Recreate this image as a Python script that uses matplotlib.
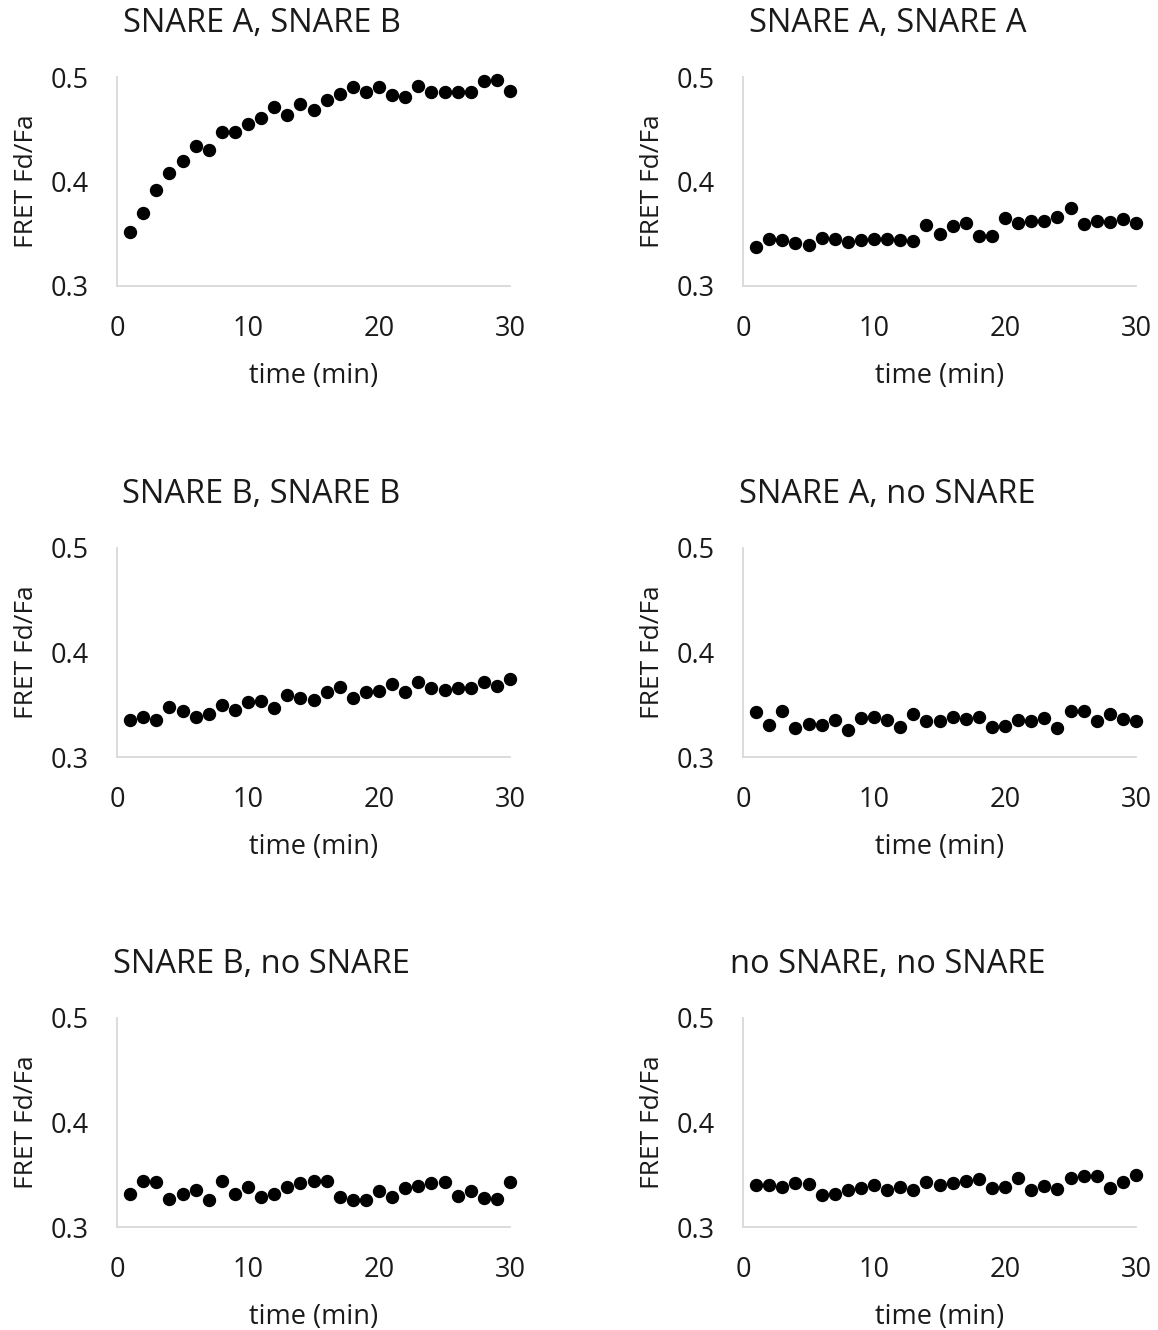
import matplotlib
matplotlib.use("Agg")
import matplotlib.pyplot as plt

plt.rcParams['font.family'] = ['Open Sans', 'DejaVu Sans']

time_min = list(range(1, 31))

titles = ["SNARE A, SNARE B", "SNARE A, SNARE A",
          "SNARE B, SNARE B", "SNARE A, no SNARE",
          "SNARE B, no SNARE", "no SNARE, no SNARE"]

snareA_snareB = [0.352, 0.370, 0.392, 0.408, 0.420, 0.434, 0.430, 0.447, 0.447, 0.455,
                 0.461, 0.471, 0.464, 0.474, 0.468, 0.478, 0.484, 0.490, 0.486, 0.490,
                 0.483, 0.481, 0.491, 0.486, 0.486, 0.486, 0.486, 0.496, 0.497, 0.487]
snareA_snareA = [0.337, 0.345, 0.344, 0.341, 0.339, 0.346, 0.345, 0.342, 0.344, 0.345,
                 0.345, 0.344, 0.343, 0.358, 0.350, 0.357, 0.360, 0.348, 0.348, 0.365,
                 0.360, 0.362, 0.362, 0.366, 0.375, 0.359, 0.362, 0.361, 0.364, 0.360]
snareB_snareB = [0.335, 0.338, 0.335, 0.348, 0.344, 0.338, 0.341, 0.350, 0.345, 0.353,
                 0.354, 0.347, 0.359, 0.356, 0.355, 0.362, 0.367, 0.356, 0.362, 0.363,
                 0.370, 0.362, 0.372, 0.366, 0.364, 0.366, 0.366, 0.372, 0.368, 0.375]
snareA_none = [0.343, 0.331, 0.344, 0.328, 0.332, 0.331, 0.335, 0.326, 0.337, 0.338,
               0.335, 0.329, 0.341, 0.334, 0.334, 0.338, 0.336, 0.338, 0.329, 0.330,
               0.335, 0.334, 0.337, 0.328, 0.344, 0.344, 0.334, 0.341, 0.336, 0.334]
snareB_none = [0.332, 0.344, 0.343, 0.327, 0.332, 0.335, 0.326, 0.344, 0.332, 0.338,
               0.329, 0.332, 0.338, 0.342, 0.344, 0.344, 0.329, 0.326, 0.326, 0.334,
               0.329, 0.337, 0.339, 0.342, 0.343, 0.330, 0.334, 0.328, 0.327, 0.343]
none_none = [0.340, 0.340, 0.338, 0.342, 0.341, 0.331, 0.332, 0.335, 0.337, 0.340,
             0.335, 0.338, 0.335, 0.343, 0.340, 0.342, 0.344, 0.346, 0.337, 0.338,
             0.347, 0.335, 0.339, 0.336, 0.347, 0.349, 0.349, 0.337, 0.343, 0.350]

series = [snareA_snareB, snareA_snareA, snareB_snareB, snareA_none, snareB_none, none_none]

x_ticks = [0, 10, 20, 30]
y_ticks = [0.3, 0.4, 0.5]
x_label = "time (min)"
y_label = "FRET Fd/Fa"

fig = plt.figure(figsize=(11.58, 13.3), dpi=100)
W, H = 1158, 1330
lefts = [117, 743]
tops = [77, 548, 1018]
aw, ah = 393, 209

spine_col = '#d9d9d9'
txt_col = '#1a1a1a'
for i, (t, ys) in enumerate(zip(titles, series)):
    r, c = divmod(i, 2)
    ax = fig.add_axes([lefts[c] / W, 1 - (tops[r] + ah) / H, aw / W, ah / H])
    ax.plot(time_min, ys, 'o', color='black', markersize=8.6, clip_on=False)
    ax.set_xlim(0, 30)
    ax.set_ylim(0.3, 0.5)
    ax.set_xticks(x_ticks)
    ax.set_yticks(y_ticks)
    ax.set_yticklabels(["%.1f" % v for v in y_ticks])
    for s in ['top', 'right']:
        ax.spines[s].set_visible(False)
    for s in ['left', 'bottom']:
        ax.spines[s].set_color(spine_col)
        ax.spines[s].set_linewidth(1.3)
    ax.tick_params(axis='both', length=0, labelsize=19.5, colors=txt_col)
    ax.tick_params(axis='y', pad=20)
    ax.tick_params(axis='x', pad=21)
    ax.set_xlabel(x_label, fontsize=19.5, color=txt_col)
    ax.set_ylabel(y_label, fontsize=19, color=txt_col)
    ax.xaxis.set_label_coords(0.5, -0.365)
    ax.yaxis.set_label_coords(-0.198, 0.5)
    ax.text(0.368, 1.258, t, transform=ax.transAxes, ha='center', va='center',
            fontsize=23.5, color=txt_col)

fig.savefig('out.png', dpi=100, facecolor='white')
